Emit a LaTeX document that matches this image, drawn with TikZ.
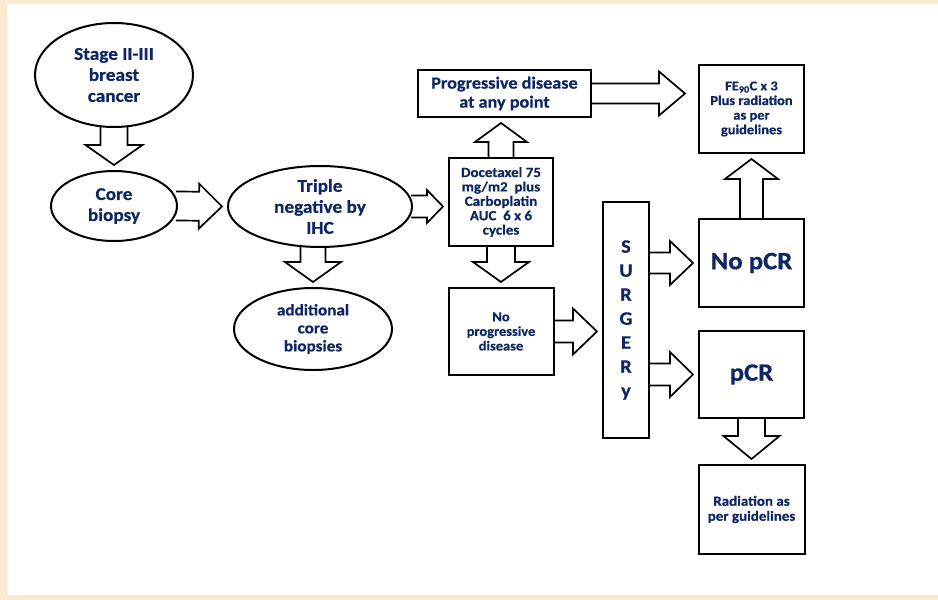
\documentclass[tikz,border=0pt]{standalone}
\usepackage{fontspec}
\setmainfont{Carlito}[FakeStretch=1.07, BoldFeatures={FakeBold=0.6}]
\usepackage{tikz}
\usetikzlibrary{positioning,shapes.geometric,calc,backgrounds}
\definecolor{navy}{RGB}{14,38,98}
\definecolor{cream}{RGB}{252,234,208}

% hollow block arrow: tail, tip, shaft half width, head half width, head length
\newcommand{\fatarrow}[5]{%
  \coordinate (tl) at ($(#1)!-2pt!(#2)$);
  \coordinate (tp) at ($(#2)!5pt!(#1)$);
  \coordinate (hb) at ($(tp)!#5!(tl)$);
  \draw[fat] ($(tl)!#3!90:(tp)$) -- ($(hb)!#3!-90:(tl)$) -- ($(hb)!#4!-90:(tl)$) -- (tp)
    -- ($(hb)!#4!90:(tl)$) -- ($(hb)!#3!90:(tl)$) -- ($(tl)!#3!-90:(tp)$);
}

\begin{document}
\begin{tikzpicture}[x=1pt, y=-1pt,
    every node/.style = {text=navy, align=center, inner sep=0pt, fill=white, line width=2pt},
    oval/.style = {draw, ellipse},
    box/.style = {draw, rectangle},
    big/.style = {font=\bfseries\fontsize{18}{21}\selectfont},
    mid/.style = {font=\bfseries\fontsize{17}{19}\selectfont},
    small/.style = {font=\bfseries\fontsize{13.5}{14.6}\selectfont},
    fat/.style = {draw, line width=1.7pt, fill=white, line join=miter}
  ]
  \useasboundingbox (0,0) rectangle (938,600);

  % left column
  \node[oval, big, minimum width=158pt, minimum height=104pt] (stage) at (114,75) {Stage II-III\\ breast\\ cancer};
  \node[oval, big, minimum width=126pt, minimum height=70pt] (core) [below=42pt of stage] {Core\\ biopsy};
  \node[oval, big, minimum width=184pt, minimum height=81pt] (triple) at (320,206.5) {Triple\\ negative by\\ IHC};
  \node[oval, font=\bfseries\fontsize{16}{18}\selectfont, minimum width=158pt, minimum height=82pt] (additional) at (313,329) {additional\\ core\\ biopsies};

  % treatment
  \node[box, font=\bfseries\fontsize{14}{14.4}\selectfont, minimum width=104pt, minimum height=88pt] (doc) at (501,202) {Docetaxel 75\\ mg/m2~ plus\\ Carboplatin\\ AUC~ 6 x 6\\ cycles};
  \node[box, mid, minimum width=173pt, minimum height=47pt] (prog) at (504.5,93.5) {Progressive disease\\ at any point};
  \node[box, small, minimum width=105pt, minimum height=87pt] (noprog) [below=40pt of doc] {No\\ progressive\\ disease};
  \node[box, font=\bfseries\fontsize{19}{24}\selectfont, minimum width=46pt, minimum height=236pt] (surgery) at (626,320) {S\\ U\\ R\\ G\\ E\\ R\\ y};

  % outcome column
  \node[box, small, minimum width=105pt, minimum height=88pt] (FE) at (751.5,109) {FE\textsubscript{90}C x 3\\ Plus radiation\\ as per\\ guidelines};
  \node[box, font=\bfseries\fontsize{25}{28}\selectfont, minimum width=105pt, minimum height=88pt] (nopcr) [below=64pt of FE] {No pCR};
  \node[box, font=\bfseries\fontsize{25}{28}\selectfont, minimum width=105pt, minimum height=87pt] (pcr) [below=22pt of nopcr] {pCR};
  \node[box, font=\bfseries\fontsize{14}{15}\selectfont, minimum width=106pt, minimum height=89pt] (rad) [below=45pt of pcr] {Radiation as\\ per guidelines};

  \coordinate (trip-out) at (triple.south -| additional.north);
  \coordinate (doc-in) at (doc.west |- triple.east);
  \coordinate (prog-in) at (doc.north |- prog.south);
  \coordinate (noprog-in) at (doc.south |- noprog.north);
  \coordinate (fe-in) at ([xshift=-8pt]FE.west |- prog.east);
  \coordinate (surg-in) at (surgery.west |- noprog.east);
  \coordinate (surg-out1) at (surgery.east |- nopcr.west);
  \coordinate (surg-out2) at (surgery.east |- pcr.west);

  \begin{pgfonlayer}{background}
    \fill[cream] (0,0) rectangle (938,600);
    \fill[white] (7,4) rectangle (938,595);
    \fatarrow{stage.south}{core.north}{13.5pt}{28.5pt}{20pt}
    \fatarrow{core.east}{triple.west}{14.5pt}{22.5pt}{23pt}
    \fatarrow{triple.east}{doc-in}{11pt}{16.5pt}{16pt}
    \fatarrow{trip-out}{additional.north}{12.5pt}{28pt}{20pt}
    \fatarrow{doc.north}{prog-in}{12.5pt}{26pt}{19pt}
    \fatarrow{doc.south}{noprog-in}{14pt}{28pt}{20pt}
    \fatarrow{prog.east}{fe-in}{10pt}{22pt}{26pt}
    \fatarrow{noprog.east}{surg-in}{11pt}{23pt}{24pt}
    \fatarrow{surg-out1}{nopcr.west}{10.5pt}{22pt}{23pt}
    \fatarrow{surg-out2}{pcr.west}{11pt}{22.5pt}{23pt}
    \fatarrow{nopcr.north}{FE.south}{11.5pt}{26.5pt}{20pt}
    \fatarrow{pcr.south}{rad.north}{13.5pt}{28pt}{23pt}
  \end{pgfonlayer}
\end{tikzpicture}
\end{document}
